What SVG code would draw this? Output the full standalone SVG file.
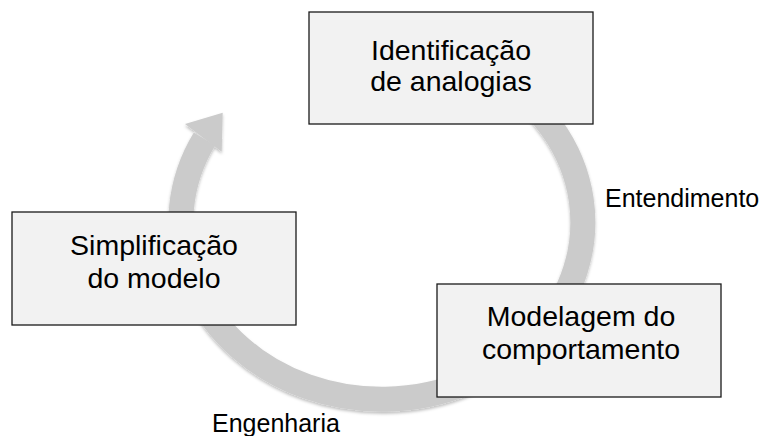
<svg xmlns="http://www.w3.org/2000/svg" width="766" height="436" viewBox="0 0 766 436">
  <defs>
    <filter id="sh" x="-10%" y="-10%" width="120%" height="120%">
      <feDropShadow dx="0" dy="2" stdDeviation="1.5" flood-color="#000" flood-opacity="0.25"/>
    </filter>
  </defs>
  <style>
    .box { fill: #f2f2f2; stroke: #1a1a1a; stroke-width: 1.3; }
    .t { font-family: "Liberation Sans", Arial, sans-serif; font-size: 28.5px; fill: #000; text-anchor: middle; }
    .lbl { font-family: "Liberation Sans", Arial, sans-serif; font-size: 25px; fill: #000; }
    .arc { fill: none; stroke: #cbcbcb; stroke-width: 25; }
    .head { fill: #cbcbcb; }
  </style>
  <rect width="766" height="436" fill="#ffffff"/>
  <g id="connectors" filter="url(#sh)">
    <path class="arc" d="M 414.9 47.7 A 201 177 0 1 1 204.5 139"/>
    <polygon class="head" points="222.7,112.7 185,124 221.7,151.7"/>
  </g>
  <g id="node-identificacao">
    <rect class="box" x="309" y="12" width="284" height="112"/>
    <text class="t" x="451" y="59.5">Identificação</text>
    <text class="t" x="451" y="91">de analogias</text>
  </g>
  <g id="node-simplificacao">
    <rect class="box" x="12" y="212" width="284" height="113"/>
    <text class="t" x="154" y="254.5">Simplificação</text>
    <text class="t" x="154" y="287.5">do modelo</text>
  </g>
  <g id="node-modelagem">
    <rect class="box" x="437" y="284" width="284" height="113"/>
    <text class="t" x="581" y="325.5">Modelagem do</text>
    <text class="t" x="581" y="359">comportamento</text>
  </g>
  <g id="labels">
    <text class="lbl" x="605" y="207">Entendimento</text>
    <text class="lbl" x="212" y="431.5">Engenharia</text>
  </g>
</svg>
